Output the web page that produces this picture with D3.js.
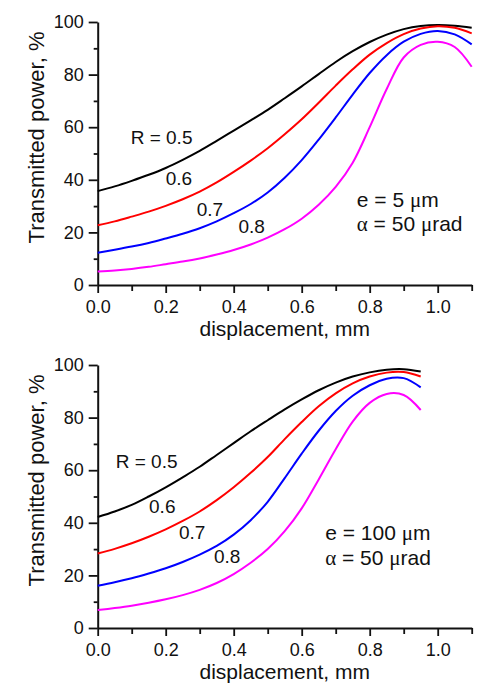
<!DOCTYPE html>
<html>
<head>
<meta charset="utf-8">
<script src="https://cdn.jsdelivr.net/npm/d3@7/dist/d3.min.js"></script>
<style>
  body { margin: 0; background: #fff; }
  svg { display: block; font-family: "Liberation Sans", Arial, sans-serif; }
</style>
</head>
<body>
<svg></svg>
<script>
// displacement (mm) sample points, one list per panel
var topX = [0, 0.05, 0.1, 0.15, 0.2, 0.25, 0.3, 0.35, 0.4, 0.45, 0.5, 0.55, 0.6, 0.65, 0.7, 0.75, 0.8, 0.85, 0.9, 0.95, 1.0, 1.05, 1.1];
var botX = [0, 0.05, 0.1, 0.15, 0.2, 0.25, 0.3, 0.35, 0.4, 0.45, 0.5, 0.55, 0.6, 0.65, 0.7, 0.75, 0.8, 0.85, 0.9, 0.95];

// transmitted power (%), e = 5 um
var topR05 = [35.7, 37.5, 39.6, 41.9, 44.5, 47.6, 51, 54.8, 58.7, 62.6, 66.6, 71, 75.5, 80.2, 84.8, 88.9, 92.4, 95.2, 97.3, 98.5, 98.9, 98.6, 97.8];
var topR06 = [22.7, 24.2, 26, 27.9, 30.1, 32.6, 35.5, 39, 43, 47.3, 52, 57.3, 63, 69.3, 75.8, 82, 87.6, 92, 95.4, 97.5, 98.4, 97.8, 95.7];
var topR07 = [12.3, 13.4, 14.6, 16, 17.7, 19.5, 21.6, 24.2, 27.3, 30.8, 35.2, 40.8, 47.5, 55.3, 63.7, 72.4, 80.6, 87.4, 92.5, 95.5, 96.6, 95.3, 91.5];
var topR08 = [5.1, 5.5, 6.1, 6.9, 7.9, 8.9, 10.1, 11.6, 13.3, 15.4, 18, 21.2, 25.2, 30.5, 37.3, 46.5, 60, 74.5, 86.5, 91.3, 92.5, 90.5, 83];

// transmitted power (%), e = 100 um
var botR05 = [42.2, 44.3, 46.8, 50, 53.5, 57.3, 61.3, 65.8, 70.3, 74.8, 79, 83.1, 86.9, 90.4, 93.3, 95.6, 97.2, 98.2, 98.4, 97.5];
var botR06 = [28.3, 30.1, 32.2, 34.7, 37.5, 40.7, 44.3, 48.6, 53.5, 59, 65, 71.8, 78.3, 84.3, 89.2, 93, 95.6, 97.1, 97.3, 95.6];
var botR07 = [16.1, 17.4, 18.9, 20.7, 22.7, 25.1, 27.9, 31.2, 35.5, 41, 48, 57, 66.3, 75, 82.5, 88.3, 92.3, 94.8, 95, 91.5];
var botR08 = [6.8, 7.6, 8.5, 9.6, 10.9, 12.5, 14.5, 17.1, 20.5, 24.8, 30, 36.8, 45.5, 56.5, 68, 78.5, 85.6, 89, 88.6, 82.9];

var curveLabels = ["R = 0.5", "0.6", "0.7", "0.8"];
var noteTop = ["e = 5 μm", "α = 50 μrad"];
var noteBot = ["e = 100 μm", "α = 50 μrad"];

var xMajor = [0, 0.2, 0.4, 0.6, 0.8, 1.0];
var xMinor = [0.1, 0.3, 0.5, 0.7, 0.9, 1.1];
var yMajor = [0, 20, 40, 60, 80, 100];
var yMinor = [10, 30, 50, 70, 90];

var colors = ["#000000", "#ff0000", "#0000ff", "#ff00ff"];

var svgWidth = 488, svgHeight = 684;
var svg = d3.select("svg").attr("width", svgWidth).attr("height", svgHeight);

var panels = [
    { top: 22, bottom: 285, xs: topX, series: [topR05, topR06, topR07, topR08], note: noteTop,
      labelAt: [[0.097, 53.6], [0.2, 38], [0.291, 26.2], [0.414, 19.7]], noteAt: [0.762, 29.7, 20.5] },
    { top: 365, bottom: 628, xs: botX, series: [botR05, botR06, botR07, botR08], note: noteBot,
      labelAt: [[0.053, 60.7], [0.151, 43.8], [0.239, 33.7], [0.342, 24.6]], noteAt: [0.669, 33.5, 24] }
];

// greek letters drawn in a serif face, like the Symbol font of the original
function greekText(sel, str) {
    str.split(/([αμ])/).filter(s => s.length).forEach(function(s) {
        var t = sel.append("tspan").text(s);
        if (/[αμ]/.test(s)) t.attr("font-family", "'Liberation Serif', 'DejaVu Serif', serif");
    });
}

panels.forEach(function(p) {
    var x = d3.scaleLinear().domain([0, 1.1]).range([97.7, 471.7]);
    var y = d3.scaleLinear().domain([0, 100]).range([p.bottom, p.top]);

    var g = svg.append("g");

    // axes
    g.append("g").attr("transform", "translate(0," + p.bottom + ")")
        .call(d3.axisBottom(x).tickValues(xMajor).tickFormat(d3.format(".1f"))
            .tickSize(8).tickPadding(7).tickSizeOuter(0));
    g.append("g").attr("transform", "translate(0," + p.bottom + ")")
        .call(d3.axisBottom(x).tickValues(xMinor).tickFormat("").tickSize(6).tickSizeOuter(0))
        .select(".domain").remove();

    g.append("g").attr("transform", "translate(97.7,0)")
        .call(d3.axisLeft(y).tickValues(yMajor).tickSize(9).tickPadding(5).tickSizeOuter(0));
    g.append("g").attr("transform", "translate(97.7,0)")
        .call(d3.axisLeft(y).tickValues(yMinor).tickFormat("").tickSize(4).tickSizeOuter(0))
        .select(".domain").remove();

    g.selectAll(".domain").attr("stroke", "#111").attr("stroke-width", 2);
    g.selectAll(".tick line").attr("stroke", "#111").attr("stroke-width", 1.8);
    g.selectAll(".tick text")
        .attr("font-size", 18)
        .attr("font-family", "'Liberation Sans', Arial, sans-serif")
        .attr("fill", "#111");

    // axis titles
    g.append("text")
        .attr("x", (x.range()[0] + x.range()[1]) / 2)
        .attr("y", p.bottom + 51)
        .attr("text-anchor", "middle")
        .attr("font-size", 21)
        .attr("fill", "#111")
        .text("displacement, mm");

    g.append("text")
        .attr("transform", "translate(44," + ((p.top + p.bottom) / 2 - 16) + ") rotate(-90)")
        .attr("text-anchor", "middle")
        .attr("font-size", 22)
        .attr("fill", "#111")
        .text("Transmitted power, %");

    // curves
    var line = d3.line()
        .x(d => x(d[0]))
        .y(d => y(d[1]))
        .curve(d3.curveCatmullRom.alpha(0.5));

    p.series.forEach(function(vals, i) {
        g.append("path")
            .datum(p.xs.map((d, j) => [d, vals[j]]))
            .attr("fill", "none")
            .attr("stroke", colors[i])
            .attr("stroke-width", 2)
            .attr("d", line);

        g.append("text")
            .attr("x", x(p.labelAt[i][0]))
            .attr("y", y(p.labelAt[i][1]))
            .attr("font-size", 19)
            .attr("fill", "#111")
            .text(curveLabels[i]);
    });

    // parameters note
    p.note.forEach(function(s, i) {
        var t = g.append("text")
            .attr("x", x(p.noteAt[0]))
            .attr("y", y(p.noteAt[1 + i]))
            .attr("font-size", 21)
            .attr("fill", "#111");
        greekText(t, s);
    });
});
</script>
</body>
</html>
